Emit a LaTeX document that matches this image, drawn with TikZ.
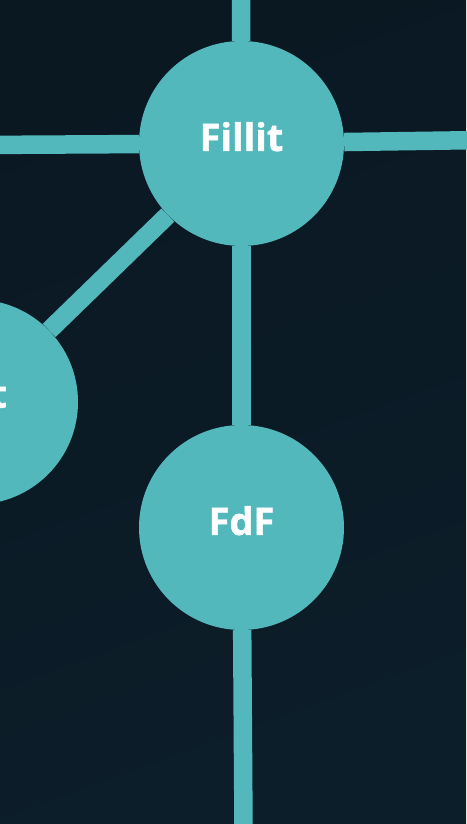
\documentclass[tikz,border=0pt]{standalone}
\usepackage{fontspec}
\newfontfamily\projfont{Open Sans}[BoldFeatures={FakeBold=1.2}]
\usetikzlibrary{backgrounds}
\definecolor{bgtop}{RGB}{10,24,34}
\definecolor{bgbot}{RGB}{12,30,42}
\definecolor{projteal}{RGB}{82,184,188}
\def\Rad{205pt}
\tikzset{
  project/.style={circle, fill=projteal, minimum size=\Rad, inner sep=0pt,
    text=white, font=\projfont\bfseries\fontsize{38}{38}\selectfont, text depth=14pt},
  link/.style={draw=projteal, line width=18.5pt}
}
\begin{document}
\begin{tikzpicture}[x=1pt, y=1pt]
\useasboundingbox (0,0) rectangle (466,824);

\node[project] (fillit) at (241.5, 680.5) {Fillit};
\node[project] (fdf) at (241.5, 296.5) {FdF};
\node[project, text width=63pt, align=right] (left) at (-24.5, 422) {t};

\coordinate (topend) at (241, 840);
\coordinate (leftend) at (-20, 679);
\coordinate (rightend) at (486, 684);
\coordinate (botend) at (243.6, -20);

\begin{scope}[on background layer]
\shade[top color=bgtop, bottom color=bgbot, shading angle=20] (0,0) rectangle (466,824);
\draw[link] (topend) -- (fillit);
\draw[link] (leftend) -- (fillit);
\draw[link] (fillit) -- (rightend);
\draw[link] (fillit) -- (left);
\draw[link] (fillit) -- (fdf);
\draw[link] (fdf) -- (botend);
\end{scope}
\end{tikzpicture}
\end{document}
